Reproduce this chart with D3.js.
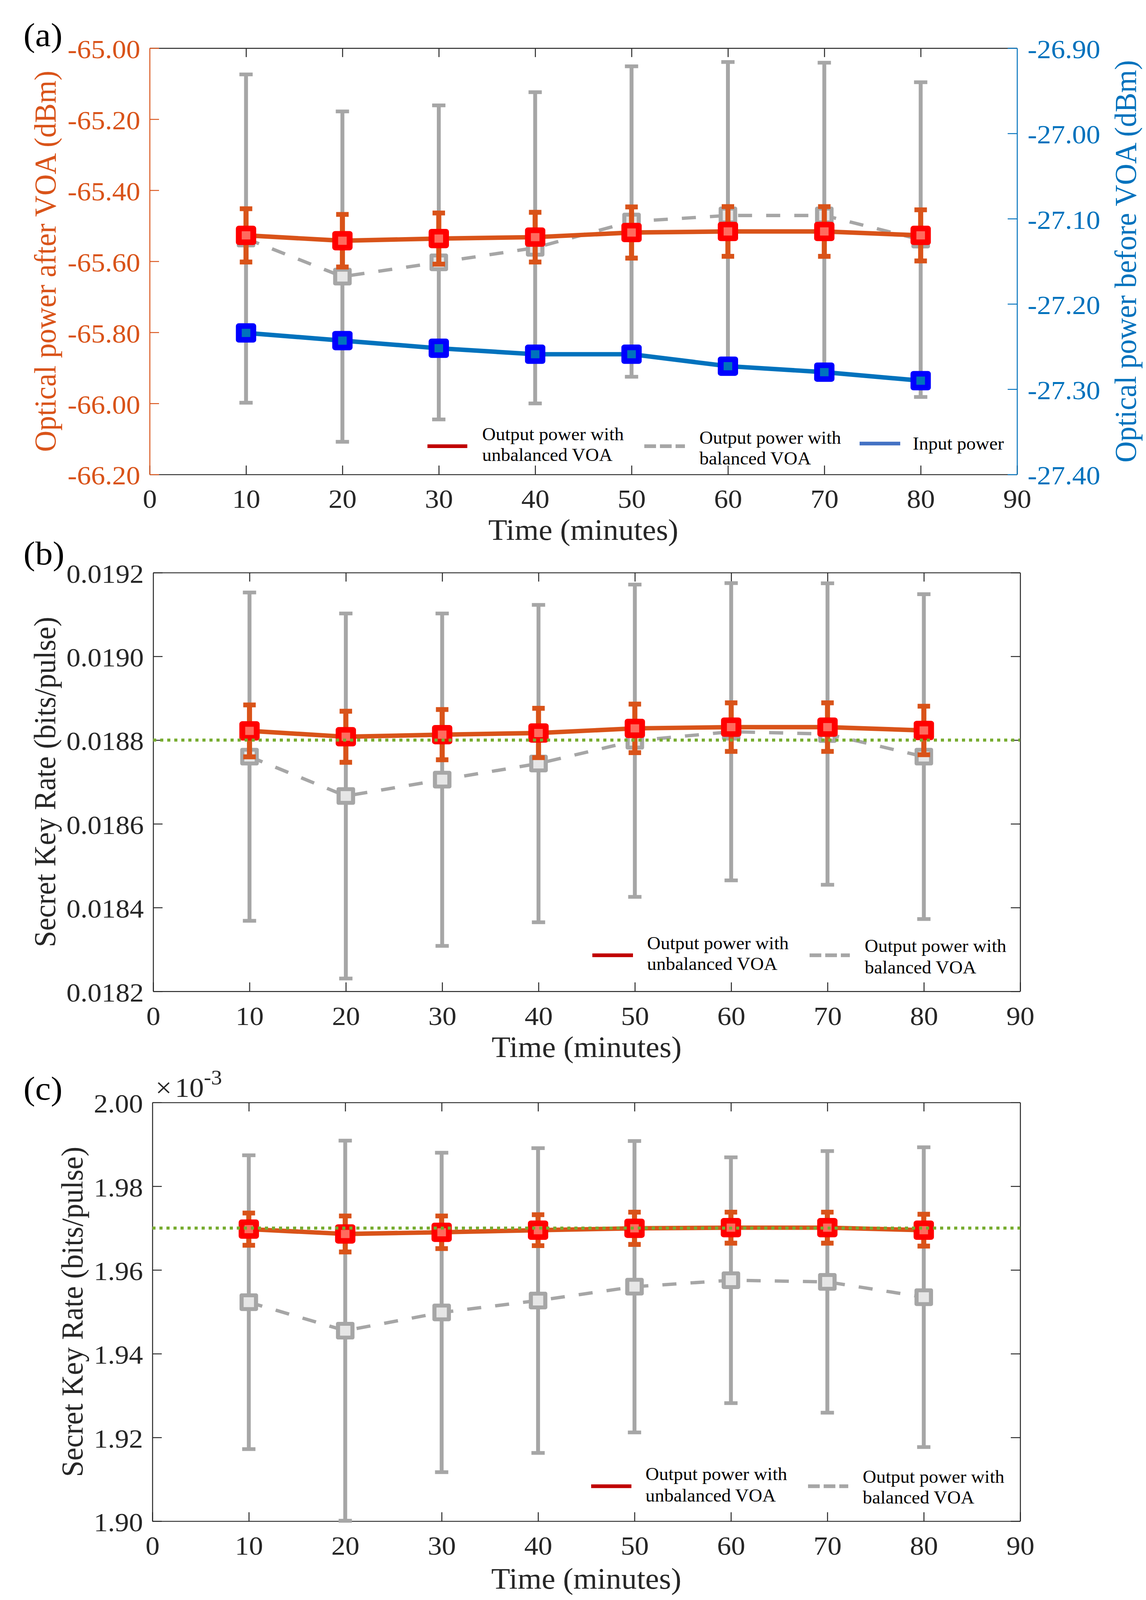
<!DOCTYPE html>
<html><head><meta charset="utf-8">
<script src="https://cdn.jsdelivr.net/npm/d3@7"></script>
<style>
html,body{margin:0;padding:0;background:#fff;overflow:hidden;width:100%;height:100%}
svg{display:block;width:100vw;height:100vh}
text{font-family:"Liberation Serif","Times New Roman",serif}
</style>
</head><body>
<svg id="chart" viewBox="0 0 2933 4303" preserveAspectRatio="none"></svg>
<script>
// ---------------- DATA ----------------
const times = [10, 20, 30, 40, 50, 60, 70, 80];
const xTicks = [0, 10, 20, 30, 40, 50, 60, 70, 80, 90];

// Panel (a): optical power
const aLeftTicks = [-65.0, -65.2, -65.4, -65.6, -65.8, -66.0, -66.2];
const aRightTicks = [-26.9, -27.0, -27.1, -27.2, -27.3, -27.4];
const aUnbalanced = [-65.527, -65.542, -65.536, -65.532, -65.519, -65.516, -65.516, -65.527];
const aUnbalancedErr = [0.075, 0.074, 0.072, 0.070, 0.072, 0.070, 0.070, 0.072];
const aBalanced = [-65.536, -65.643, -65.603, -65.562, -65.488, -65.471, -65.471, -65.539];
const aBalancedErr = [0.462, 0.465, 0.442, 0.438, 0.437, 0.432, 0.430, 0.443];
const aInput = [-27.234, -27.243, -27.252, -27.259, -27.259, -27.273, -27.280, -27.290];

// Panel (b): secret key rate
const bTicks = [0.0182, 0.0184, 0.0186, 0.0188, 0.0190, 0.0192];
const bUnbalanced = [0.018822, 0.018808, 0.018813, 0.018817, 0.018828, 0.018831, 0.018831, 0.018823];
const bUnbalancedErr = [0.000062, 0.000061, 0.000060, 0.000059, 0.000058, 0.000058, 0.000058, 0.000058];
const bBalanced = [0.0187605, 0.0186665, 0.0187055, 0.018744, 0.0187985, 0.01882, 0.0188145, 0.0187605];
const bBalancedErr = [0.000392, 0.000436, 0.000397, 0.000379, 0.000373, 0.000355, 0.000360, 0.000388];
const bReference = 0.0188;

// Panel (c): secret key rate, in units of 1e-3
const cTicks = [1.90, 1.92, 1.94, 1.96, 1.98, 2.00];
const cUnbalanced = [1.96975, 1.9686, 1.9690, 1.9695, 1.96995, 1.9701, 1.9701, 1.9695];
const cUnbalancedErr = [0.00385, 0.0043, 0.0039, 0.0037, 0.00385, 0.0037, 0.0037, 0.0038];
const cBalanced = [1.9523, 1.9455, 1.94985, 1.9527, 1.9560, 1.95755, 1.95715, 1.9535];
const cBalancedErr = [0.0351, 0.0454, 0.03815, 0.0364, 0.0348, 0.02935, 0.03125, 0.0358];
const cReference = 1.97;

const legendUnbalanced = ["Output power with", "unbalanced VOA"];
const legendBalanced = ["Output power with", "balanced VOA"];
const legendInput = ["Input power"];

// ---------------- STYLE ----------------
const C = {
  orange: "#D95319", blue: "#0072BD", red: "#FF0000", redFill: "#FF6B5E",
  gray: "#A6A6A6", grayFill: "#E6E6E6", blueEdge: "#0000FF", green: "#77AC30",
  axis: "#262626", legRed: "#C00000", legBlue: "#4472C4"
};
const FONT_TICK = 72, FONT_TITLE = 79, FONT_LEG = 48, FONT_PANEL = 90;

const svg = d3.select("#chart");
svg.append("rect").attr("width", 2933).attr("height", 4303).attr("fill", "#fff");

function styleAxis(g, color, fontColor) {
  g.select(".domain").attr("stroke", color).attr("stroke-width", 2.5);
  g.selectAll(".tick line").attr("stroke", color).attr("stroke-width", 2.5);
  g.selectAll(".tick text").attr("fill", fontColor || C.axis)
    .attr("font-size", FONT_TICK).attr("font-family", '"Liberation Serif","Times New Roman",serif');
}

function errorBars(g, x, y, vals, errs, color, width, cap) {
  const eg = g.append("g");
  times.forEach((t, i) => {
    const cx = x(t), y1 = y(vals[i] + errs[i]), y2 = y(vals[i] - errs[i]);
    eg.append("line").attr("x1", cx).attr("x2", cx).attr("y1", y1).attr("y2", y2)
      .attr("stroke", color).attr("stroke-width", width);
    [y1, y2].forEach(yy => eg.append("line").attr("x1", cx - cap).attr("x2", cx + cap)
      .attr("y1", yy).attr("y2", yy).attr("stroke", color).attr("stroke-width", width));
  });
}

function seriesLine(g, x, y, vals, color, width, dash) {
  const line = d3.line().x((d, i) => x(times[i])).y(d => y(d));
  g.append("path").datum(vals).attr("d", line).attr("fill", "none")
    .attr("stroke", color).attr("stroke-width", width)
    .attr("stroke-linejoin", "round")
    .attr("stroke-dasharray", dash || null);
}

function markers(g, x, y, vals, edge, fill, sw) {
  const s = 37;
  g.append("g").selectAll("rect").data(vals).join("rect")
    .attr("x", (d, i) => x(times[i]) - s / 2).attr("y", d => y(d) - s / 2)
    .attr("width", s).attr("height", s)
    .attr("fill", fill).attr("stroke", edge).attr("stroke-width", sw)
    .attr("stroke-linejoin", "round");
}

function legendEntry(g, x1, x2, ly, color, dash, tx, lines, baselines) {
  g.append("line").attr("x1", x1).attr("x2", x2).attr("y1", ly).attr("y2", ly)
    .attr("stroke", color).attr("stroke-width", 10).attr("stroke-dasharray", dash || null);
  lines.forEach((s, i) => g.append("text").attr("x", tx).attr("y", baselines[i])
    .attr("font-size", FONT_LEG).attr("fill", "#000").text(s));
}

function panel(cfg) {
  const g = svg.append("g");
  const x = d3.scaleLinear().domain([0, 90]).range([cfg.left, cfg.right]);
  const y = d3.scaleLinear().domain(cfg.yDomain).range([cfg.bottom, cfg.top]);

  // axes
  const gb = g.append("g").attr("transform", `translate(0,${cfg.bottom})`)
    .call(d3.axisBottom(x).tickValues(xTicks).tickSizeInner(-24).tickSizeOuter(0).tickPadding(39).tickFormat(d3.format("d")));
  styleAxis(gb, C.axis);
  const gt = g.append("g").attr("transform", `translate(0,${cfg.top})`)
    .call(d3.axisTop(x).tickValues(xTicks.slice(1, -1)).tickSizeInner(-24).tickSizeOuter(0).tickFormat(""));
  styleAxis(gt, C.axis);
  const gl = g.append("g").attr("transform", `translate(${cfg.left},0)`)
    .call(d3.axisLeft(y).tickValues(cfg.yTicks).tickSizeInner(-24).tickSizeOuter(0).tickPadding(24).tickFormat(cfg.fmt));
  styleAxis(gl, cfg.leftColor || C.axis, cfg.leftColor || C.axis);
  gl.selectAll(".tick text").attr("dy", "0.37em");

  let y2 = null;
  if (cfg.y2Domain) {
    y2 = d3.scaleLinear().domain(cfg.y2Domain).range([cfg.bottom, cfg.top]);
    const gr = g.append("g").attr("transform", `translate(${cfg.right},0)`)
      .call(d3.axisRight(y2).tickValues(cfg.y2Ticks).tickSizeInner(-24).tickSizeOuter(0).tickPadding(27).tickFormat(d => d.toFixed(2)));
    styleAxis(gr, C.blue, C.blue);
    gr.selectAll(".tick text").attr("dy", "0.37em");
  } else {
    const gr = g.append("g").attr("transform", `translate(${cfg.right},0)`)
      .call(d3.axisRight(y).tickValues(cfg.yTicks).tickSizeInner(-24).tickSizeOuter(0).tickFormat(""));
    styleAxis(gr, C.axis);
  }

  // data
  errorBars(g, x, y, cfg.bal, cfg.balErr, C.gray, 10, 17);
  seriesLine(g, x, y, cfg.bal, C.gray, 9, "36,36");
  markers(g, x, y, cfg.bal, C.gray, C.grayFill, 10.5);
  errorBars(g, x, y, cfg.unbal, cfg.unbalErr, C.orange, 13, 16);
  seriesLine(g, x, y, cfg.unbal, C.orange, 12);
  markers(g, x, y, cfg.unbal, C.red, C.redFill, 15);
  if (cfg.input) {
    seriesLine(g, x, y2, cfg.input, C.blue, 12);
    markers(g, x, y2, cfg.input, C.blueEdge, C.blue, 15);
  }
  if (cfg.ref !== undefined) {
    g.append("line").attr("x1", x(0)).attr("x2", x(90)).attr("y1", y(cfg.ref)).attr("y2", y(cfg.ref))
      .attr("stroke", C.green).attr("stroke-width", 8).attr("stroke-dasharray", "8,10");
  }

  // titles
  const mid = (cfg.top + cfg.bottom) / 2;
  g.append("text").attr("transform", `translate(${cfg.yTitleX},${mid}) rotate(-90)`)
    .attr("text-anchor", "middle").attr("font-size", FONT_TITLE)
    .attr("fill", cfg.leftColor || C.axis).text(cfg.yTitle);
  g.append("text").attr("x", (cfg.left + cfg.right) / 2).attr("y", cfg.bottom + cfg.xTitleOff)
    .attr("text-anchor", "middle").attr("font-size", FONT_TITLE).attr("fill", C.axis).text("Time (minutes)");
  g.append("text").attr("x", 60).attr("y", cfg.panelY).attr("font-size", FONT_PANEL)
    .attr("fill", "#000").text(cfg.panelLabel);
  return { g, x, y };
}

// ---------------- PANEL (a) ----------------
const pa = panel({
  left: 383, right: 2603, top: 129.5, bottom: 1276,
  yDomain: [-66.2, -65.0], yTicks: aLeftTicks, fmt: d => d.toFixed(2), leftColor: C.orange,
  y2Domain: [-27.4, -26.9], y2Ticks: aRightTicks,
  bal: aBalanced, balErr: aBalancedErr, unbal: aUnbalanced, unbalErr: aUnbalancedErr, input: aInput,
  yTitle: "Optical power after VOA (dBm)", yTitleX: 142, xTitleOff: 176,
  panelLabel: "(a)", panelY: 124
});
pa.g.append("text").attr("transform", `translate(2907,${(129.5 + 1276) / 2}) rotate(-90)`)
  .attr("text-anchor", "middle").attr("font-size", FONT_TITLE).attr("fill", C.blue)
  .text("Optical power before VOA (dBm)");
legendEntry(pa.g, 1094, 1196, 1200, C.legRed, null, 1234, legendUnbalanced, [1184, 1240]);
legendEntry(pa.g, 1649, 1753, 1200, C.gray, "30,10", 1790, legendBalanced, [1193, 1249]);
legendEntry(pa.g, 2200, 2304, 1193, C.legBlue, null, 2336, legendInput, [1209]);

// ---------------- PANEL (b) ----------------
const pb = panel({
  left: 392, right: 2611, top: 1540, bottom: 2666,
  yDomain: [0.0182, 0.0192], yTicks: bTicks, fmt: d => d.toFixed(4),
  bal: bBalanced, balErr: bBalancedErr, unbal: bUnbalanced, unbalErr: bUnbalancedErr, ref: bReference,
  yTitle: "Secret Key Rate (bits/pulse)", yTitleX: 141, xTitleOff: 177,
  panelLabel: "(b)", panelY: 1518
});
legendEntry(pb.g, 1516, 1620, 2569, C.legRed, null, 1656, legendUnbalanced, [2553, 2609]);
legendEntry(pb.g, 2072, 2175, 2569, C.gray, "30,10", 2213, legendBalanced, [2560, 2618]);

// ---------------- PANEL (c) ----------------
const pc = panel({
  left: 390, right: 2611, top: 2965, bottom: 4091,
  yDomain: [1.90, 2.00], yTicks: cTicks, fmt: d => d.toFixed(2),
  bal: cBalanced, balErr: cBalancedErr, unbal: cUnbalanced, unbalErr: cUnbalancedErr, ref: cReference,
  yTitle: "Secret Key Rate (bits/pulse)", yTitleX: 211, xTitleOff: 182,
  panelLabel: "(c)", panelY: 2957
});
const mult = pc.g.append("text").attr("x", 398).attr("y", 2950).attr("font-size", 74).attr("fill", C.axis);
mult.append("tspan").text("×");
mult.append("tspan").attr("dx", 8).text("10");
mult.append("tspan").attr("font-size", 56).attr("dy", -34).text("-3");
legendEntry(pc.g, 1513, 1616, 3997, C.legRed, null, 1652, legendUnbalanced, [3981, 4038]);
legendEntry(pc.g, 2068, 2171, 3997, C.gray, "30,10", 2208, legendBalanced, [3988, 4044]);
</script>
</body></html>
